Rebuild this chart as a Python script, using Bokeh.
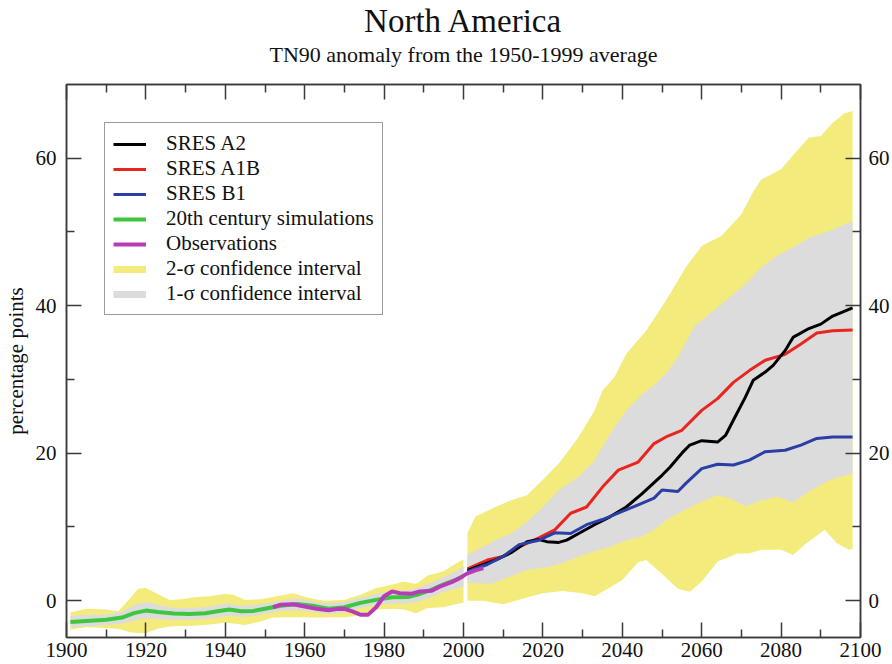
from bokeh.plotting import figure
from bokeh.models import LinearAxis, FixedTicker, Legend, LegendItem, Range1d
from bokeh.embed import file_html
from bokeh.resources import INLINE

# ---------------- data ----------------
hist_years = [1901, 1905, 1910, 1914, 1917, 1920, 1923, 1927, 1931, 1935, 1938, 1941, 1944, 1947,
              1950, 1954, 1958, 1962, 1966, 1970, 1974, 1978, 1982, 1986, 1989, 1992, 1995, 1998, 2000]
hist_mean = [-2.9, -2.75, -2.6, -2.3, -1.7, -1.35, -1.55, -1.75, -1.8, -1.7, -1.45, -1.2, -1.45, -1.4,
             -1.1, -0.7, -0.45, -0.7, -1.1, -0.9, -0.3, 0.1, 0.45, 0.5, 0.9, 1.5, 2.2, 2.8, 3.3]
hist_1s_hi = [-2.1, -1.9, -1.9, -1.5, -0.6, -0.2, -0.6, -1.0, -1.0, -0.9, -0.6, -0.4, -0.7, -0.6,
              -0.4, 0.0, 0.3, -0.1, -0.4, -0.2, 0.4, 0.9, 1.3, 1.4, 1.8, 2.5, 3.2, 4.0, 4.6]
hist_1s_lo = [-3.6, -3.5, -3.3, -3.1, -2.7, -2.4, -2.5, -2.6, -2.6, -2.5, -2.3, -2.0, -2.2, -2.1,
              -1.8, -1.4, -1.3, -1.5, -1.8, -1.6, -1.0, -0.6, -0.4, -0.4, -0.1, 0.5, 1.2, 1.6, 1.9]

hist2_years = [1901, 1905, 1910, 1913, 1916, 1918, 1920, 1923, 1926, 1929, 1932, 1936, 1940, 1942,
               1945, 1949, 1952, 1957, 1961, 1965, 1970, 1974, 1978, 1982, 1985, 1988, 1991, 1995,
               1998, 2000]
hist_2s_hi = [-1.6, -1.1, -1.2, -1.45, 0.3, 1.6, 1.7, 0.9, 0.1, 0.2, 0.45, 0.6, 0.9, 0.8,
              0.1, 0.2, 0.5, 1.0, 0.35, 0.0, 0.1, 0.8, 1.7, 2.15, 2.6, 2.25, 3.4, 4.0, 5.0, 5.6]
hist_2s_lo = [-3.9, -3.6, -3.7, -3.8, -4.3, -4.4, -4.4, -3.8, -3.5, -3.45, -3.4, -3.25, -3.0, -3.1,
              -3.3, -2.8, -2.3, -2.25, -2.3, -2.3, -2.25, -2.0, -1.2, -1.1, -1.2, -1.7, -1.0, -0.9,
              -0.5, -0.3]

obs_years = [1952, 1954, 1957, 1960, 1963, 1966, 1968, 1970, 1972, 1974, 1976, 1978, 1980, 1982,
             1984, 1987, 1989, 1992, 1994, 1997, 1999, 2001, 2003, 2005]
obs_vals = [-0.9, -0.55, -0.5, -0.8, -1.1, -1.3, -1.15, -1.1, -1.45, -1.9, -1.9, -0.9, 0.6, 1.25,
            1.0, 0.95, 1.25, 1.35, 1.9, 2.5, 3.05, 3.7, 4.1, 4.4]

a2_years = [2001, 2004, 2008, 2012, 2016, 2019, 2021, 2024, 2026, 2029, 2033, 2037, 2041, 2045,
            2048, 2050, 2052, 2055, 2057, 2060, 2064, 2066, 2068, 2071, 2073, 2076, 2078, 2081,
            2083, 2087, 2090, 2093, 2098]
a2_vals = [4.1, 4.7, 5.5, 6.5, 8.0, 8.3, 8.0, 7.9, 8.2, 9.1, 10.3, 11.4, 12.7, 14.5,
           16.0, 17.0, 18.1, 20.0, 21.1, 21.7, 21.5, 22.4, 24.5, 27.6, 29.9, 31.0, 31.9, 33.9,
           35.7, 36.9, 37.5, 38.6, 39.7]

a1b_years = [2001, 2006, 2010, 2014, 2019, 2023, 2027, 2031, 2035, 2039, 2044, 2048, 2051, 2055,
             2060, 2064, 2068, 2072, 2076, 2081, 2085, 2089, 2093, 2098]
a1b_vals = [4.3, 5.5, 6.0, 7.3, 8.5, 9.6, 11.85, 12.7, 15.4, 17.7, 18.8, 21.3, 22.2, 23.1,
            25.8, 27.4, 29.6, 31.2, 32.6, 33.4, 34.8, 36.3, 36.6, 36.7]

b1_years = [2001, 2006, 2010, 2014, 2019, 2023, 2027, 2031, 2035, 2040, 2044, 2048, 2050, 2054,
            2056, 2060, 2064, 2068, 2072, 2076, 2081, 2085, 2089, 2093, 2098]
b1_vals = [3.95, 4.9, 6.0, 7.6, 8.2, 9.2, 9.1, 10.3, 11.0, 12.1, 13.0, 13.9, 15.0, 14.8,
           15.9, 17.9, 18.5, 18.4, 19.05, 20.2, 20.4, 21.1, 22.0, 22.2, 22.2]

f2hi_years = [2001, 2003, 2008, 2012, 2016, 2020, 2024, 2029, 2033, 2035, 2038, 2041, 2046, 2051,
              2056, 2060, 2065, 2070, 2073, 2075, 2080, 2082, 2087, 2090, 2093, 2096, 2098]
fut_2s_hi = [9.2, 11.4, 12.7, 13.6, 14.3, 16.4, 18.6, 22.2, 25.8, 28.5, 30.3, 33.5, 36.6, 40.7,
             45.2, 48.1, 49.5, 52.4, 55.5, 57.1, 58.5, 59.8, 62.8, 63.0, 64.8, 66.1, 66.4]

f2lo_years = [2001, 2005, 2010, 2015, 2020, 2025, 2030, 2033, 2036, 2040, 2044, 2046, 2050, 2054,
              2057, 2060, 2064, 2069, 2072, 2075, 2080, 2083, 2086, 2091, 2094, 2097, 2098]
fut_2s_lo = [0.0, 0.0, -0.5, 0.3, 1.0, 1.3, 1.0, 0.6, 1.5, 2.8, 5.2, 5.5, 3.6, 1.6,
             1.2, 2.6, 5.3, 6.4, 6.4, 6.9, 6.9, 6.2, 7.6, 9.6, 7.8, 6.9, 7.0]

f1hi_years = [2001, 2008, 2012, 2016, 2020, 2024, 2029, 2033, 2037, 2041, 2045, 2048, 2051, 2054,
              2058, 2062, 2066, 2071, 2075, 2079, 2083, 2087, 2092, 2098]
fut_1s_hi = [6.2, 8.2, 9.1, 10.7, 12.7, 15.0, 16.8, 19.0, 22.7, 25.8, 28.0, 29.2, 30.8, 33.0,
             37.1, 38.9, 40.7, 42.9, 45.2, 46.8, 47.9, 49.2, 50.1, 51.5]

f1lo_years = [2001, 2007, 2012, 2016, 2021, 2025, 2029, 2033, 2037, 2041, 2045, 2048, 2051, 2055,
              2060, 2064, 2067, 2071, 2075, 2079, 2083, 2087, 2092, 2096, 2098]
fut_1s_lo = [2.4, 2.3, 3.3, 4.2, 4.5, 5.1, 6.0, 6.7, 7.3, 8.2, 8.7, 9.6, 10.9, 12.1,
             13.4, 14.3, 13.9, 12.8, 13.6, 14.1, 13.3, 14.8, 16.3, 17.0, 17.25]

x_ticks = [1900, 1920, 1940, 1960, 1980, 2000, 2020, 2040, 2060, 2080, 2100]
x_minor = [1910, 1930, 1950, 1970, 1990, 2010, 2030, 2050, 2070, 2090]
y_ticks = [0, 20, 40, 60]
y_minor = [10, 30, 50]

title_text = "North America"
subtitle_text = "TN90 anomaly from the 1950-1999 average"
y_label = "percentage points"
labels = ["SRES A2", "SRES A1B", "SRES B1", "20th century simulations", "Observations",
          "2-\u03c3 confidence interval", "1-\u03c3 confidence interval"]

# ---------------- style ----------------
SERIF = "Liberation Serif"
YELLOW = "#f3eb7b"
GRAY = "#dcdcdc"
GREEN = "#3fc63f"
MAGENTA = "#b83cb8"
RED = "#e8251f"
BLUE = "#2a3fa6"
BLACK = "#000000"
AX = "#3a3a3a"
TXT = "#111111"

p = figure(width=892, height=664, x_range=Range1d(1900, 2100), y_range=Range1d(-5, 70),
           output_backend="svg", toolbar_location=None,
           x_axis_location=None, y_axis_location=None,
           min_border_left=66, min_border_right=32, min_border_top=83, min_border_bottom=27)
p.grid.visible = False
p.outline_line_color = AX
p.outline_line_width = 1.5
p.background_fill_color = "white"
p.border_fill_color = "white"

# bands
p.varea(x=hist2_years, y1=hist_2s_lo, y2=hist_2s_hi, fill_color=YELLOW)
p.varea(x=hist_years, y1=hist_1s_lo, y2=hist_1s_hi, fill_color=GRAY)
fx = list(f2hi_years) + list(reversed(f2lo_years))
fy = list(fut_2s_hi) + list(reversed(fut_2s_lo))
p.patch(x=fx, y=fy, fill_color=YELLOW, line_color=None)
gx = list(f1hi_years) + list(reversed(f1lo_years))
gy = list(fut_1s_hi) + list(reversed(fut_1s_lo))
p.patch(x=gx, y=gy, fill_color=GRAY, line_color=None)

# lines
r_green = p.line(hist_years, hist_mean, line_color=GREEN, line_width=4)
r_red = p.line(a1b_years, a1b_vals, line_color=RED, line_width=3)
r_black = p.line(a2_years, a2_vals, line_color=BLACK, line_width=3)
r_blue = p.line(b1_years, b1_vals, line_color=BLUE, line_width=3)
r_mag = p.line(obs_years, obs_vals, line_color=MAGENTA, line_width=4)

# legend-only swatches for the bands (no visible data)
nan = float("nan")
r_y = p.line(x=[nan], y=[nan], line_color=YELLOW, line_width=7)
r_g = p.line(x=[nan], y=[nan], line_color=GRAY, line_width=7)

# axes
def mk_axis(ticks, minor, show_labels=True):
    ax = LinearAxis(ticker=FixedTicker(ticks=ticks, minor_ticks=minor))
    ax.axis_line_color = AX
    ax.axis_line_width = 1.5
    ax.major_tick_line_color = AX
    ax.minor_tick_line_color = AX
    ax.major_tick_line_width = 1.5
    ax.minor_tick_line_width = 1.5
    ax.major_tick_in = 15
    ax.major_tick_out = 0
    ax.minor_tick_in = 8
    ax.minor_tick_out = 0
    ax.major_label_text_font = SERIF
    ax.major_label_text_font_size = "21px"
    ax.major_label_text_color = TXT
    if not show_labels:
        ax.major_label_text_font_size = "0px"
        ax.major_label_standoff = 0
    return ax

bottom = mk_axis(x_ticks, x_minor)
bottom.major_label_standoff = 5
p.add_layout(bottom, "below")

left = mk_axis(y_ticks, y_minor)
left.major_label_standoff = 10
left.axis_label = y_label
left.axis_label_text_font = SERIF
left.axis_label_text_font_size = "21px"
left.axis_label_text_font_style = "normal"
left.axis_label_text_color = TXT
left.axis_label_standoff = 5
p.add_layout(left, "left")

right = mk_axis(y_ticks, y_minor)
right.major_label_standoff = 8
p.add_layout(right, "right")

# top axis: ticks only, its axis label carries the subtitle
top = mk_axis(x_ticks, x_minor, show_labels=False)
top.axis_label = subtitle_text
top.axis_label_text_font = SERIF
top.axis_label_text_font_size = "22px"
top.axis_label_text_font_style = "normal"
top.axis_label_text_color = TXT
top.axis_label_standoff = 18
p.add_layout(top, "above")

p.title.text = title_text
p.title.align = "center"
p.title.text_font = SERIF
p.title.text_font_size = "33px"
p.title.text_font_style = "normal"
p.title.text_color = TXT
p.title.standoff = 0

legend = Legend(items=[
    LegendItem(label=labels[0], renderers=[r_black]),
    LegendItem(label=labels[1], renderers=[r_red]),
    LegendItem(label=labels[2], renderers=[r_blue]),
    LegendItem(label=labels[3], renderers=[r_green]),
    LegendItem(label=labels[4], renderers=[r_mag]),
    LegendItem(label=labels[5], renderers=[r_y]),
    LegendItem(label=labels[6], renderers=[r_g]),
], location="top_left", margin=38)
legend.label_text_font = SERIF
legend.label_text_font_size = "21px"
legend.label_text_color = TXT
legend.glyph_width = 33
legend.glyph_height = 20
legend.label_height = 20
legend.label_standoff = 20
legend.spacing = 0
legend.padding = 8
legend.border_line_color = AX
legend.border_line_width = 1.5
legend.background_fill_alpha = 1.0
p.add_layout(legend)

open("out.html", "w").write(file_html(p, INLINE))
